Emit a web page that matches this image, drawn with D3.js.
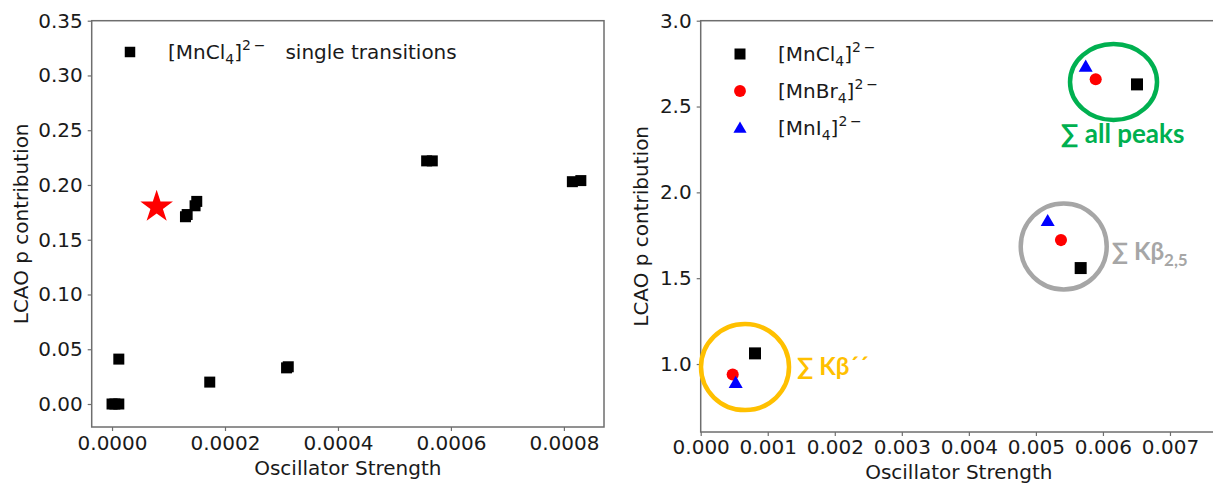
<!DOCTYPE html>
<html><head><meta charset="utf-8">
<script src="https://cdn.jsdelivr.net/npm/d3@7"></script>
<style>
html,body{margin:0;padding:0;background:#fff;}
svg{display:block;font-family:"DejaVu Sans",sans-serif;}
</style></head>
<body>
<svg id="chart" width="1213" height="486"></svg>
<script>
// ---------- data ----------
// Left panel: [MnCl4]2- single transitions
const singleOsc  = [0, 0.000005, 0.000012, 0.000012, 0.000130, 0.000133, 0.000147, 0.000150, 0.000173, 0.000309, 0.000312, 0.000557, 0.000567, 0.000815, 0.000830];
const singleLcao = [0, 0, 0, 0.041, 0.171, 0.173, 0.181, 0.185, 0.020, 0.033, 0.034, 0.222, 0.222, 0.203, 0.204];
const starOsc = [0.000079];
const starLcao = [0.180];
const leftXTicks = [0, 0.0002, 0.0004, 0.0006, 0.0008];
const leftYTicks = [0, 0.05, 0.10, 0.15, 0.20, 0.25, 0.30, 0.35];

// Right panel: sums (order: Kβ'', Kβ2,5, all peaks)
const clOsc  = [0.000810, 0.005668, 0.006508];
const clLcao = [1.062, 1.559, 2.629];
const brOsc  = [0.000477, 0.005374, 0.005892];
const brLcao = [0.939, 1.722, 2.659];
const iOsc   = [0.000522, 0.005176, 0.005743];
const iLcao  = [0.890, 1.833, 2.732];
const rightXTicks = [0, 0.001, 0.002, 0.003, 0.004, 0.005, 0.006, 0.007];
const rightYTicks = [1.0, 1.5, 2.0, 2.5, 3.0];

// Annotation groups (centres in data units)
const groupNames = ["Kβ´´", "Kβ", "all peaks"];
const groupOsc  = [0.000661, 0.005415, 0.006158];
const groupLcao = [0.982, 1.685, 2.643];

// ---------- drawing ----------
const svg = d3.select("#chart");
const axisColor = "#6e6e6e";
const textColor = "#1a1a1a";

function styleAxis(g){
  g.select(".domain").remove();
  g.selectAll(".tick line").attr("stroke", axisColor).attr("stroke-width", 1.2);
  g.selectAll(".tick text").attr("fill", textColor).attr("font-size", 20).attr("font-family", "DejaVu Sans");
}

// ----- left panel -----
const L = {x0: 91.7, x1: 604, y0: 20.7, y1: 427};
const xL = d3.scaleLinear().domain([-0.000036, 0.000871]).range([L.x0, L.x1]);
const yL = d3.scaleLinear().domain([-0.021, 0.35]).range([L.y1, L.y0]);

svg.append("g").attr("transform", `translate(0,${L.y1})`)
  .call(d3.axisBottom(xL).tickValues(leftXTicks).tickFormat(d3.format(".4f")).tickSize(4).tickPadding(5))
  .call(styleAxis);
svg.append("g").attr("transform", `translate(${L.x0},0)`)
  .call(d3.axisLeft(yL).tickValues(leftYTicks).tickFormat(d3.format(".2f")).tickSize(4).tickPadding(5))
  .call(styleAxis);
svg.append("rect").attr("x", L.x0).attr("y", L.y0).attr("width", L.x1 - L.x0).attr("height", L.y1 - L.y0)
  .attr("fill", "none").attr("stroke", axisColor).attr("stroke-width", 1.5);

const sq = d3.symbol().type(d3.symbolSquare).size(121);
svg.append("g").selectAll("path").data(singleOsc.map((v,i)=>[v, singleLcao[i]])).join("path")
  .attr("d", sq).attr("transform", d => `translate(${xL(d[0])},${yL(d[1])})`).attr("fill", "#000");
svg.append("g").selectAll("path").data(starOsc.map((v,i)=>[v, starLcao[i]])).join("path")
  .attr("d", d3.symbol().type(d3.symbolStar).size(330))
  .attr("transform", d => `translate(${xL(d[0])},${yL(d[1])})`).attr("fill", "#ff0000");

svg.append("text").attr("x", (L.x0 + L.x1)/2).attr("y", 475).attr("text-anchor", "middle")
  .attr("font-size", 20).attr("fill", textColor).text("Oscillator Strength");
svg.append("text").attr("transform", `translate(28,${(L.y0+L.y1)/2}) rotate(-90)`).attr("text-anchor", "middle")
  .attr("font-size", 20).attr("fill", textColor).text("LCAO p contribution");

// left legend
svg.append("path").attr("d", d3.symbol().type(d3.symbolSquare).size(110)).attr("transform", "translate(130,52)").attr("fill", "#000");
function ionLabel(sel, x, y, pre, rest){
  const t = sel.append("text").attr("x", x).attr("y", y).attr("font-size", 20).attr("fill", textColor);
  t.append("tspan").text(pre);
  t.append("tspan").attr("font-size", 14).attr("dy", 5).text("4");
  t.append("tspan").attr("dy", -5).text("]");
  t.append("tspan").attr("font-size", 14).attr("dy", -9).text("2\u2009\u2212");
  if (rest) t.append("tspan").attr("dy", 9).text(rest);
  return t;
}
ionLabel(svg, 168, 59, "[MnCl", "\u2003single transitions");

// ----- right panel -----
const R = {x0: 700.7, x1: 1216.9, y0: 20.7, y1: 432};
const xR = d3.scaleLinear().domain([0, 0.0077]).range([R.x0, R.x1]);
const yR = d3.scaleLinear().domain([0.604, 3.0]).range([R.y1, R.y0]);

svg.append("g").attr("transform", `translate(0,${R.y1})`)
  .call(d3.axisBottom(xR).tickValues(rightXTicks).tickFormat(d3.format(".3f")).tickSize(4).tickPadding(4))
  .call(styleAxis);
svg.append("g").attr("transform", `translate(${R.x0},0)`)
  .call(d3.axisLeft(yR).tickValues(rightYTicks).tickFormat(d3.format(".1f")).tickSize(4).tickPadding(5))
  .call(styleAxis);
svg.append("rect").attr("x", R.x0).attr("y", R.y0).attr("width", R.x1 - R.x0).attr("height", R.y1 - R.y0)
  .attr("fill", "none").attr("stroke", axisColor).attr("stroke-width", 1.5);

svg.append("text").attr("x", (R.x0 + R.x1)/2).attr("y", 479).attr("text-anchor", "middle")
  .attr("font-size", 20).attr("fill", textColor).text("Oscillator Strength");
svg.append("text").attr("transform", `translate(648,${(R.y0+R.y1)/2}) rotate(-90)`).attr("text-anchor", "middle")
  .attr("font-size", 20).attr("fill", textColor).text("LCAO p contribution");

// annotation ellipses
const ringColors = ["#ffc000", "#a6a6a6", "#00b050"];
const ringRx = [44, 43, 43.5];
const ringRy = [43, 43, 38];
svg.append("g").selectAll("ellipse").data(groupOsc.map((v,i)=>[v, groupLcao[i], i])).join("ellipse")
  .attr("cx", d => xR(d[0])).attr("cy", d => yR(d[1]))
  .attr("rx", d => ringRx[d[2]]).attr("ry", d => ringRy[d[2]])
  .attr("fill", "none").attr("stroke", d => ringColors[d[2]]).attr("stroke-width", 4.5);

// markers
const rSq = d3.symbol().type(d3.symbolSquare).size(144);
const rCi = d3.symbol().type(d3.symbolCircle).size(115);
const rTr = d3.symbol().type(d3.symbolTriangle).size(85);
svg.append("g").selectAll("path").data(clOsc.map((v,i)=>[v, clLcao[i]])).join("path")
  .attr("d", rSq).attr("transform", d => `translate(${xR(d[0])},${yR(d[1])})`).attr("fill", "#000");
svg.append("g").selectAll("path").data(brOsc.map((v,i)=>[v, brLcao[i]])).join("path")
  .attr("d", rCi).attr("transform", d => `translate(${xR(d[0])},${yR(d[1])})`).attr("fill", "#ff0000");
svg.append("g").selectAll("path").data(iOsc.map((v,i)=>[v, iLcao[i]])).join("path")
  .attr("d", rTr).attr("transform", d => `translate(${xR(d[0])},${yR(d[1])+1})`).attr("fill", "#0000ff");

// annotation texts
const annFont = "Lato, 'Open Sans', sans-serif";
{
  const cx = xR(groupOsc[0]), cy = yR(groupLcao[0]);
  const t = svg.append("text").attr("x", cx + 52).attr("y", cy + 8).attr("font-size", 24)
    .attr("font-weight", "bold").attr("font-family", annFont).attr("fill", ringColors[0]);
  t.append("tspan").text("\u2211 " + groupNames[0]);
}
{
  const cx = xR(groupOsc[1]), cy = yR(groupLcao[1]);
  const t = svg.append("text").attr("x", cx + 48).attr("y", cy + 14).attr("font-size", 24)
    .attr("font-weight", "bold").attr("font-family", annFont).attr("fill", ringColors[1]);
  t.append("tspan").text("\u2211 " + groupNames[1]);
  t.append("tspan").attr("font-size", 17).attr("dy", 6).text("2,5");
}
{
  const cx = xR(groupOsc[2]), cy = yR(groupLcao[2]);
  svg.append("text").attr("x", cx + 9).attr("y", cy + 61).attr("text-anchor", "middle").attr("font-size", 26)
    .attr("font-weight", "bold").attr("font-family", annFont).attr("fill", ringColors[2])
    .text("\u2211 " + groupNames[2]);
}

// right legend
const legY = [54, 91, 128];
svg.append("path").attr("d", d3.symbol().type(d3.symbolSquare).size(121)).attr("transform", `translate(740,${legY[0]})`).attr("fill", "#000");
svg.append("path").attr("d", d3.symbol().type(d3.symbolCircle).size(110)).attr("transform", `translate(740,${legY[1]})`).attr("fill", "#ff0000");
svg.append("path").attr("d", d3.symbol().type(d3.symbolTriangle).size(75)).attr("transform", `translate(740,${legY[2]+1})`).attr("fill", "#0000ff");
ionLabel(svg, 778, legY[0] + 7, "[MnCl");
ionLabel(svg, 778, legY[1] + 7, "[MnBr");
ionLabel(svg, 778, legY[2] + 7, "[MnI");
</script>
</body></html>
